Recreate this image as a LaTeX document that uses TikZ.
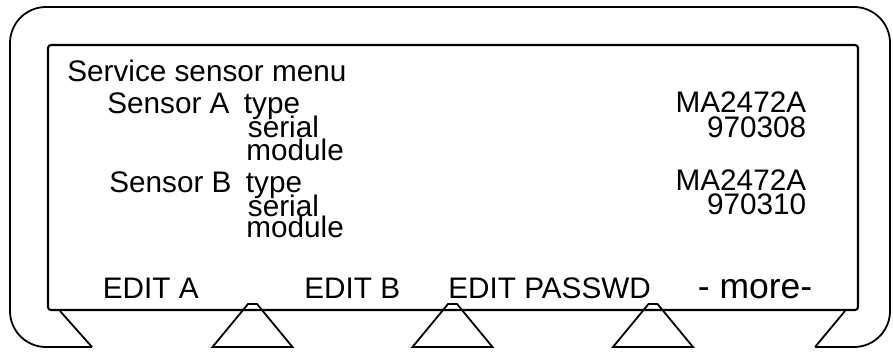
\documentclass[tikz,border=0pt]{standalone}
\usepackage{fontspec}
\setmainfont{Liberation Sans}

\begin{document}
\begin{tikzpicture}[x=1pt, y=-1pt, line width=1.8pt,
        txt/.style={anchor=base west, inner sep=0pt, font=\fontsize{29.7}{32}\selectfont},
        val/.style={txt, anchor=base east}]
        \useasboundingbox (0,0) rectangle (893,351);
        % bezel and screen
        \draw[rounded corners=36pt] (92,347) -- (10,347) -- (10,7) -- (890,7) -- (890,347) -- (815,347);
        \draw[line width=2.1pt, rounded corners=3pt] (48,45) rectangle (858,310);
        \draw (60,311) -- (92,347);
        \draw (845,311) -- (815,347);
        % softkey marks
        \foreach \c in {252.5, 452.5, 653}
            \draw (\c-40,347) -- (\c-4.5,304) -- (\c+4.5,304) -- (\c+40,347) -- cycle;
        % screen text
        \node[txt] (title) at (66.5,81.5) {Service sensor menu};
        \node[txt] (sensA) at (106.5,113) {Sensor A};
        \node[txt] (typeA) at (243,113) {type};
        \node[txt] (serialA) at (247,137.5) {serial};
        \node[txt] (moduleA) at (245.5,160) {module};
        \node[txt] (sensB) at (108.5,192) {Sensor B};
        \node[txt] (typeB) at (245,192) {type};
        \node[txt] (serialB) at (247,216) {serial};
        \node[txt] (moduleB) at (245.5,237.5) {module};
        \node[val] (typeAval) at (807,112.5) {MA2472A};
        \node[val] (serialAval) at (807,137) {970308};
        \node[val] (typeBval) at (807,190.5) {MA2472A};
        \node[val] (serialBval) at (807,214.5) {970310};
        % softkey labels
        \node[txt] (keyA) at (102,298) {EDIT A};
        \node[txt] (keyB) at (303.5,298) {EDIT B};
        \node[txt] (keyP) at (447.5,298) {EDIT PASSWD};
        \node[txt, font=\fontsize{35.5}{38}\selectfont] (keyM) at (697,298) {- more-};
\end{tikzpicture}
\end{document}
